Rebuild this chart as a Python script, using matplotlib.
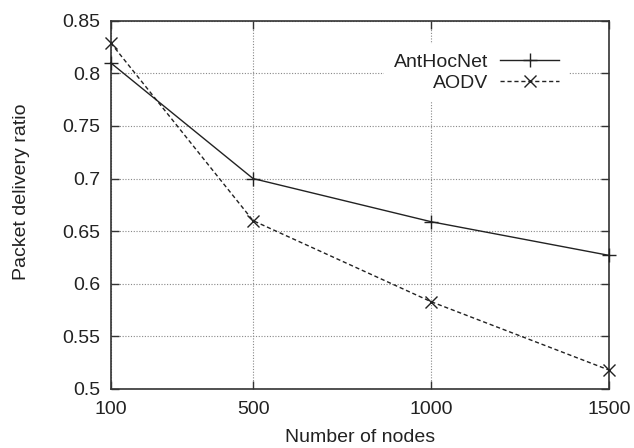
import numpy as np
import matplotlib
matplotlib.use("Agg")
from matplotlib import pyplot as plt

nodes = [100, 500, 1000, 1500]
anthocnet = [0.81, 0.70, 0.659, 0.627]
aodv = [0.829, 0.66, 0.583, 0.518]
yticks = [0.5, 0.55, 0.6, 0.65, 0.7, 0.75, 0.8, 0.85]

plt.rcParams['font.family'] = ['Liberation Sans', 'DejaVu Sans']
txt = '#222222'

fig = plt.figure(figsize=(6.34, 4.48), dpi=100)
ax = fig.add_axes([0.1746, 0.1317, 0.786, 0.822])

ax.plot(nodes, anthocnet, color='#222222', lw=1.0, marker='+', ms=10, mew=1.0,
        clip_on=False, zorder=3, label='AntHocNet')
ax.plot(nodes, aodv, color='#222222', lw=1.0, ls=(0, (3, 2)), marker='x', ms=9, mew=1.0,
        clip_on=False, zorder=3, label='AODV')

ax.set_xlim(100, 1500)
ax.set_ylim(0.5, 0.85)
ax.set_xticks(nodes)
ax.set_yticks(yticks)
ax.set_yticklabels(['%g' % v for v in yticks])
ax.grid(True, color='#888888', ls=(0, (1, 1.5)), lw=0.8)
ax.set_axisbelow(True)

ax.tick_params(direction='in', length=6, width=1, top=True, right=True,
               labelsize=14, labelcolor=txt, color='#333333')
ax.tick_params(axis='x', pad=9)
ax.tick_params(axis='y', pad=7.5)
for s in ax.spines.values():
    s.set_color('#333333')
    s.set_linewidth(1.2)

ax.set_xlabel('Number of nodes', fontsize=14, color=txt)
ax.set_ylabel('Packet delivery ratio', fontsize=14, color=txt)
ax.xaxis.set_label_coords(0.5, -0.108)
ax.yaxis.set_label_coords(-0.162, 0.536)

leg = ax.legend(loc='upper right', bbox_to_anchor=(0.92, 0.937), markerfirst=False,
                fontsize=14, handlelength=3.05, handletextpad=0.62, labelspacing=0.15,
                frameon=True, fancybox=False, borderpad=0.5, borderaxespad=0)
leg.get_frame().set_edgecolor('none')
leg.get_frame().set_facecolor('white')
leg.get_frame().set_alpha(1)
for t in leg.get_texts():
    t.set_color(txt)

plt.savefig('out.png', dpi=100)
